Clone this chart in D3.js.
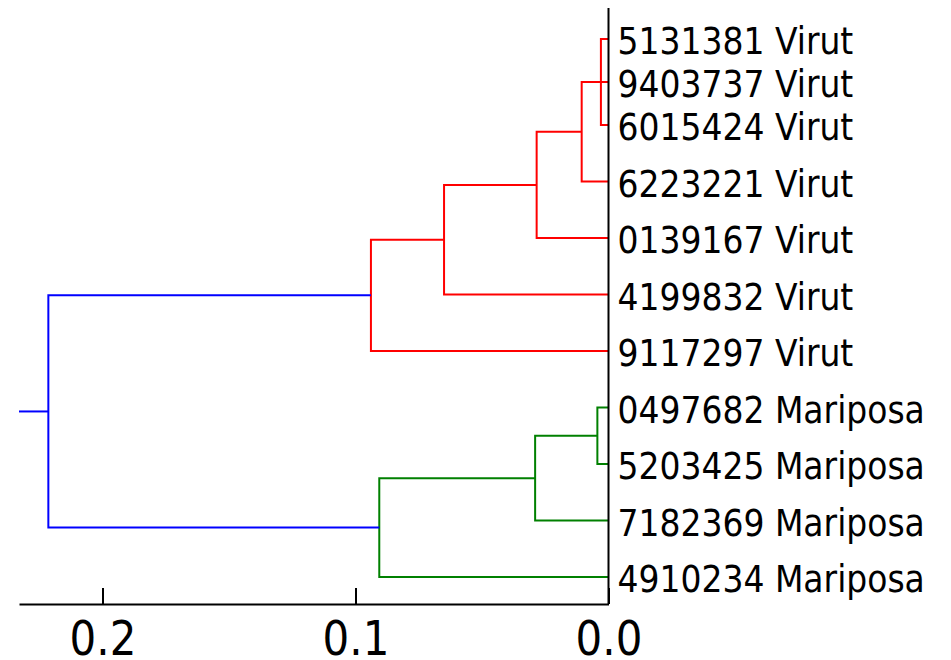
<!DOCTYPE html>
<html>
<head>
<meta charset="utf-8">
<script src="https://cdn.jsdelivr.net/npm/d3@7"></script>
<style>
    body { margin: 0; background: #fff; }
    text { font-family: "DejaVu Sans", sans-serif; fill: #000; }
</style>
</head>
<body>
<script>
//leaf labels in dendrogram order, top to bottom
var leafNames = ["5131381 Virut", "9403737 Virut", "6015424 Virut", "6223221 Virut",
    "0139167 Virut", "4199832 Virut", "9117297 Virut", "0497682 Mariposa",
    "5203425 Mariposa", "7182369 Mariposa", "4910234 Mariposa"];

//linkage: [left child, right child, height], new nodes numbered from 11 up
var linkLeft   = [0, 1, 12, 13, 14, 15, 7, 17, 18, 16];
var linkRight  = [2, 11, 3, 4, 5, 6, 8, 9, 10, 19];
var linkHeight = [0.003, 0.003, 0.0106, 0.0284, 0.065, 0.0939, 0.0044, 0.029, 0.0906, 0.2214];
//colour of each merge
var linkColor  = ["red", "red", "red", "red", "red", "red", "green", "green", "green", "blue"];

var tickValues = [0.2, 0.1, 0.0];
var xMax = 0.233;

var colors = {red: "#ff0000", green: "#008000", blue: "#0000ff"};

window.onload = drawChart();

function drawChart() {
    var width = 951, height = 660;
    var left = 19, right = 608.5, top = 8, bottom = 604;

    var svg = d3.select("body").append("svg")
        .attr("width", width)
        .attr("height", height);

    //distance runs right to left
    var x = d3.scaleLinear()
        .domain([xMax, 0])
        .range([left, right]);

    //leaf positions, the top three sit a bit closer together
    var y = d3.scaleLinear()
        .domain([0, 2, leafNames.length - 1])
        .range([39, 125, 577]);

    //position and height of every node
    var nodeY = leafNames.map(function(d, i) { return y(i); });
    var nodeH = leafNames.map(function() { return 0; });
    for (var i = 0; i < linkLeft.length; i++) {
        nodeY.push((nodeY[linkLeft[i]] + nodeY[linkRight[i]]) / 2);
        nodeH.push(linkHeight[i]);
    }

    //one U shaped path per merge
    svg.selectAll(".link")
        .data(linkLeft)
        .enter()
      .append("path")
        .attr("class", "link")
        .attr("fill", "none")
        .attr("stroke-width", 2)
        .attr("stroke", function(d, i) { return colors[linkColor[i]]; })
        .attr("d", function(d, i) {
            var a = linkLeft[i], b = linkRight[i];
            var p = d3.path();
            p.moveTo(x(nodeH[a]), nodeY[a]);
            p.lineTo(x(linkHeight[i]), nodeY[a]);
            p.lineTo(x(linkHeight[i]), nodeY[b]);
            p.lineTo(x(nodeH[b]), nodeY[b]);
            return p.toString();
        });

    //stub from the root to the edge of the axis
    var root = nodeY.length - 1;
    svg.append("line")
        .attr("x1", x(nodeH[root]))
        .attr("x2", x(xMax))
        .attr("y1", nodeY[root])
        .attr("y2", nodeY[root])
        .attr("stroke", colors.blue)
        .attr("stroke-width", 2);

    //right spine
    svg.append("line")
        .attr("x1", x(0))
        .attr("x2", x(0))
        .attr("y1", top)
        .attr("y2", bottom)
        .attr("stroke", "#000")
        .attr("stroke-width", 2);

    //bottom axis with ticks pointing inward
    var axis = svg.append("g")
        .attr("class", "axis")
        .attr("transform", "translate(0," + bottom + ")")
        .call(d3.axisBottom(x)
            .tickValues(tickValues)
            .tickSizeInner(-16)
            .tickSizeOuter(0)
            .tickFormat(d3.format(".1f")));

    axis.select(".domain").attr("stroke", "#000").attr("stroke-width", 2);
    axis.selectAll(".tick line").attr("stroke", "#000").attr("stroke-width", 2);
    axis.selectAll(".tick text")
        .attr("y", null)
        .attr("dy", null)
        .attr("fill", "#000")
        .style("font-family", "DejaVu Sans, sans-serif")
        .style("font-size", "42px")
        .attr("transform", "translate(0,51) scale(1,1.15)");

    //leaf labels
    svg.selectAll(".leafLabel")
        .data(leafNames)
        .enter()
      .append("text")
        .attr("class", "leafLabel")
        .style("font-size", "33px")
        .attr("transform", function(d, i) {
            return "translate(" + (x(0) + 9) + "," + (y(i) + 15) + ") scale(1,1.15)";
        })
        .text(function(d) { return d; });
}
</script>
</body>
</html>
